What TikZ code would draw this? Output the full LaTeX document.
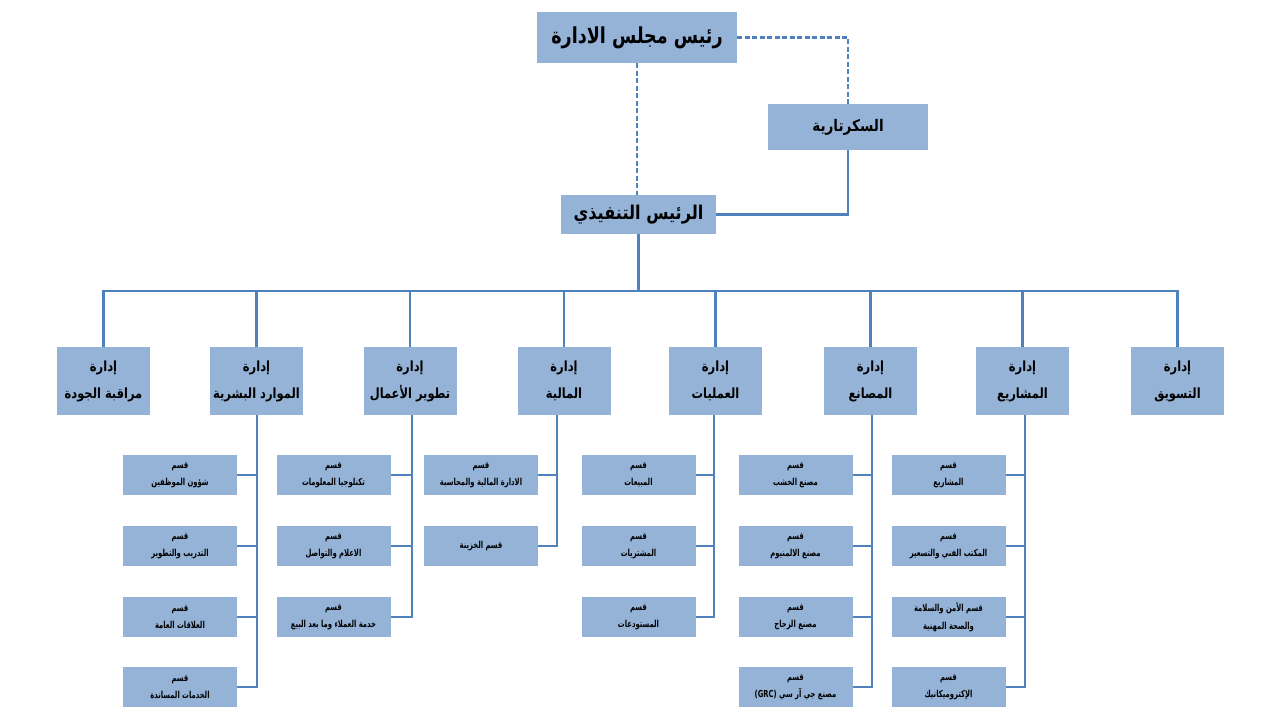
\documentclass[tikz,border=0pt]{standalone}
\usepackage{fontspec}
\usepackage{graphicx}
\TeXXeTstate=1
\newfontfamily\arabicfont[Script=Arabic]{DejaVu Sans}
\def\arsc{1}
\newcommand{\ar}[1]{\scalebox{\arsc}[1]{\arabicfont\bfseries\beginR #1\endR}}
\definecolor{boxfill}{HTML}{95B3D7}
\definecolor{lineblue}{HTML}{4F81BD}
\tikzset{
  box/.style={fill=boxfill, inner sep=0pt, align=center, text=black},
  dept/.style={box, minimum width=93pt, minimum height=68pt, font={\fontsize{14}{27}\selectfont\def\arsc{0.82}}},
  sub/.style={box, minimum width=114pt, minimum height=40pt, font={\fontsize{9.6}{17.5}\selectfont\def\arsc{0.71}}},
  conn/.style={draw=lineblue, line width=2.6pt},
  dconn/.style={conn, dash pattern=on 5pt off 2.5pt}
}
\begin{document}
\begin{tikzpicture}[x=1pt,y=-1pt]
\useasboundingbox (0,0) rectangle (1280,720);
% top levels
\node[box, minimum width=200pt, minimum height=51pt, font={\fontsize{22}{24}\selectfont\def\arsc{0.8}}] (top) at (637,37.5) {\ar{رئيس مجلس الادارة}};
\node[box, minimum width=160pt, minimum height=46pt, font={\fontsize{16}{18}\selectfont\def\arsc{0.85}}] (sec) at (848,127) {\ar{السكرتارية}};
\node[box, minimum width=155pt, minimum height=39pt, font={\fontsize{19}{21}\selectfont\def\arsc{0.85}}] (ceo) at (638.5,214.5) {\ar{الرئيس التنفيذي}};
% departments
\node[dept] (qual) at (103.5,381) {\ar{إدارة}\\\ar{مراقبة الجودة}};
\node[dept] (hr)   at (256.5,381) {\ar{إدارة}\\\ar{الموارد البشرية}};
\node[dept] (bd)   at (410,381)   {\ar{إدارة}\\\ar{تطوير الأعمال}};
\node[dept] (fin)  at (564,381)   {\ar{إدارة}\\\ar{المالية}};
\node[dept] (ops)  at (715.5,381) {\ar{إدارة}\\\ar{العمليات}};
\node[dept] (fac)  at (870.5,381) {\ar{إدارة}\\\ar{المصانع}};
\node[dept] (proj) at (1022.5,381){\ar{إدارة}\\\ar{المشاريع}};
\node[dept] (mkt)  at (1177.5,381){\ar{إدارة}\\\ar{التسويق}};
% sections: HR
\node[sub] (hr1) at (180,475) {\ar{قسم}\\\ar{شؤون الموظفين}};
\node[sub] (hr2) at (180,546) {\ar{قسم}\\\ar{التدريب والتطوير}};
\node[sub] (hr3) at (180,617) {\ar{قسم}\\\ar{العلاقات العامة}};
\node[sub] (hr4) at (180,687) {\ar{قسم}\\\ar{الخدمات المساندة}};
% BD
\node[sub] (bd1) at (333.5,475) {\ar{قسم}\\\ar{تكنلوجيا المعلومات}};
\node[sub] (bd2) at (333.5,546) {\ar{قسم}\\\ar{الاعلام والتواصل}};
\node[sub] (bd3) at (333.5,617) {\ar{قسم}\\\ar{خدمة العملاء وما بعد البيع}};
% Finance
\node[sub] (fin1) at (481,475) {\ar{قسم}\\\ar{الادارة المالية والمحاسبة}};
\node[sub] (fin2) at (481,546) {\ar{قسم الخزينة}};
% Operations
\node[sub] (ops1) at (638.5,475) {\ar{قسم}\\\ar{المبيعات}};
\node[sub] (ops2) at (638.5,546) {\ar{قسم}\\\ar{المشتريات}};
\node[sub] (ops3) at (638.5,617) {\ar{قسم}\\\ar{المستودعات}};
% Factories
\node[sub] (fac1) at (795.5,475) {\ar{قسم}\\\ar{مصنع الخشب}};
\node[sub] (fac2) at (795.5,546) {\ar{قسم}\\\ar{مصنع الالمنيوم}};
\node[sub] (fac3) at (795.5,617) {\ar{قسم}\\\ar{مصنع الزجاج}};
\node[sub] (fac4) at (795.5,687) {\ar{قسم}\\\ar{مصنع جي آر سي \beginL(GRC)\endL}};
% Projects
\node[sub] (proj1) at (948.5,475) {\ar{قسم}\\\ar{المشاريع}};
\node[sub] (proj2) at (948.5,546) {\ar{قسم}\\\ar{المكتب الفني والتسعير}};
\node[sub] (proj3) at (948.5,617) {\ar{قسم الأمن والسلامة}\\\ar{والصحة المهنية}};
\node[sub] (proj4) at (948.5,687) {\ar{قسم}\\\ar{الإكتروميكانيك}};
% spine x positions and bus
\coordinate (bus) at (0,291);
\coordinate (hrX) at (257,0);
\coordinate (bdX) at (412,0);
\coordinate (finX) at (557,0);
\coordinate (opsX) at (714,0);
\coordinate (facX) at (872,0);
\coordinate (projX) at (1025,0);
% top connectors
\draw[dconn] (top.south) -- (top.south |- ceo.north);
\draw[dconn] (top.east) -- (top.east -| sec.north) -- (sec.north);
\draw[conn] (sec.south) |- (ceo.east);
\draw[conn] (ceo.south) -- (ceo.south |- bus);
\draw[conn] (qual.north) -- (qual.north |- bus) -- (mkt.north |- bus) -- (mkt.north);
\foreach \d in {hr,bd,fin,ops,fac,proj}{
  \draw[conn] (\d.north) -- (\d.north |- bus);
}
% spines
\draw[conn] (hr.south -| hrX) |- (hr4.east);
\foreach \s in {hr1,hr2,hr3}{\draw[conn] (\s.east) -- (\s.east -| hrX);}
\draw[conn] (bd.south -| bdX) |- (bd3.east);
\foreach \s in {bd1,bd2}{\draw[conn] (\s.east) -- (\s.east -| bdX);}
\draw[conn] (fin.south -| finX) |- (fin2.east);
\draw[conn] (fin1.east) -- (fin1.east -| finX);
\draw[conn] (ops.south -| opsX) |- (ops3.east);
\foreach \s in {ops1,ops2}{\draw[conn] (\s.east) -- (\s.east -| opsX);}
\draw[conn] (fac.south -| facX) |- (fac4.east);
\foreach \s in {fac1,fac2,fac3}{\draw[conn] (\s.east) -- (\s.east -| facX);}
\draw[conn] (proj.south -| projX) |- (proj4.east);
\foreach \s in {proj1,proj2,proj3}{\draw[conn] (\s.east) -- (\s.east -| projX);}
\end{tikzpicture}
\end{document}
